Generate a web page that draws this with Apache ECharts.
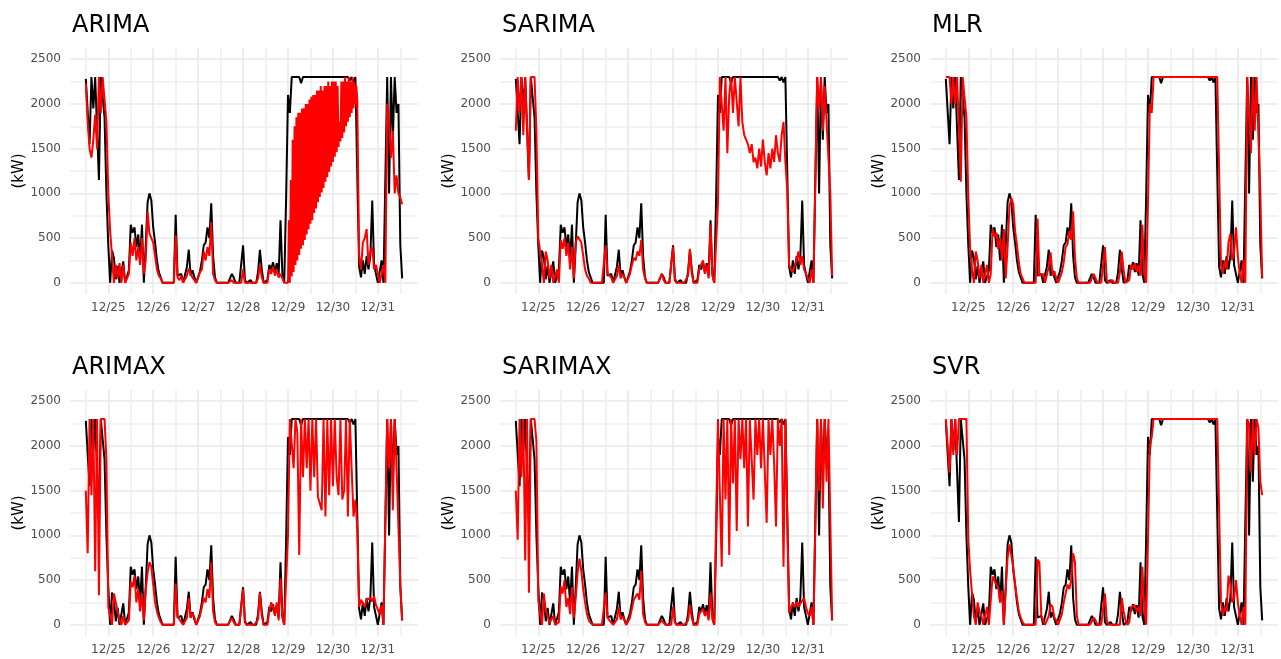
<!DOCTYPE html>
<html>
<head>
<meta charset="utf-8">
<title>Forecast comparison</title>
<script src="https://cdn.jsdelivr.net/npm/echarts@6/dist/echarts.min.js"></script>
<style>
html, body { margin: 0; padding: 0; background: #fff; }
#chart { width: 1281px; height: 659px; }
</style>
</head>
<body>
<div id="chart"></div>
<script>
// hourly load in kW, one value per hour starting 12/24 12:00
var actual = [
  2280, 2300, 1550, 2300, 1950, 2300, 2300, 1150, 2300, 2300, 1850, 1000,
  420, 0, 360, 280, 40, 190, 0, 0, 240, 0, 0, 140,
  650, 560, 620, 400, 540, 250, 650, 0, 420, 900, 1000, 920,
  620, 450, 250, 120, 60, 0, 0, 0, 0, 0, 0, 0,
  760, 80, 60, 100, 0, 0, 180, 370, 80, 140, 60, 0,
  0, 130, 250, 420, 450, 620, 500, 890, 300, 60, 0, 0,
  0, 0, 0, 0, 0, 0, 100, 60, 0, 0, 0, 0,
  420, 30, 0, 0, 30, 0, 0, 0, 120, 370, 150, 0,
  0, 30, 200, 150, 230, 120, 220, 80, 700, 100, 0, 950,
  2100, 1900, 2300, 2300, 2300, 2300, 2300, 2230, 2300, 2300, 2300, 2300,
  2300, 2300, 2300, 2300, 2300, 2300, 2300, 2300, 2300, 2300, 2300, 2300,
  2300, 2300, 2300, 2300, 2300, 2300, 2300, 2300, 2300, 2260, 2300, 2240,
  2300, 2300, 180, 60, 250, 100, 300, 150, 300, 920, 200, 100,
  0, 0, 250, 0, 0, 2300, 1000, 2300, 1600, 2300, 1900, 2000,
  420, 50
];

var arima = [
  2230, 1800, 1500, 1400, 1600, 1880, 1500, 2300, 1900, 2300, 2300, 1800,
  1000, 580, 300, 0, 200, 50, 220, 0, 200, 0, 0, 100,
  450, 300, 500, 250, 400, 200, 500, 100, 250, 800, 550, 500,
  450, 300, 150, 80, 50, 0, 0, 0, 0, 0, 0, 0,
  530, 60, 30, 80, 0, 0, 80, 160, 100, 60, 30, 0,
  0, 120, 150, 350, 250, 400, 300, 680, 100, 30, 0, 0,
  0, 0, 0, 0, 0, 0, 30, 0, 0, 0, 0, 0,
  150, 0, 0, 0, 0, 0, 0, 0, 50, 200, 60, 0,
  0, 0, 150, 100, 180, 80, 150, 60, 100, 50, 0, 0,
  0, 0, 70, 120, 200, 250, 310, 380, 420, 480, 540, 600,
  660, 700, 780, 830, 900, 960, 1010, 1060, 1130, 1180, 1240, 1300,
  1350, 1410, 1460, 1520, 1580, 1620, 1680, 1750, 1800, 1850, 1900, 1950,
  2000, 2050, 300, 150, 450, 500, 600, 200, 350, 400, 150, 200,
  100, 0, 0, 200, 0, 2000, 1800, 1400, 1700, 1000, 1200, 1000,
  950, 880
];
// ARIMA swings up between the hourly lows on 12/29-12/30 (values at half past, from 108:30)
var arimaHalfStart = 108.5;
var arimaHalf = [
  700, 1150, 1600, 1750, 1850, 1900, 1900, 1950, 1950, 2000,
  2000, 2050, 2080, 2100, 2100, 2150, 2150, 2200, 2150, 2200,
  2200, 2250, 2200, 2250, 2250, 2250, 2200, 1800, 2250, 2250,
  2300, 2250, 2300, 2250, 2300, 2250, 2200
];

var sarima = [
  1700, 2300, 1900, 2300, 1650, 2300, 2300, 1150, 2300, 2300, 2300, 1700,
  500, 350, 200, 0, 350, 250, 50, 200, 0, 0, 150, 0,
  480, 380, 500, 300, 450, 150, 400, 50, 450, 520, 540, 450,
  300, 150, 80, 50, 0, 0, 0, 0, 0, 0, 0, 0,
  420, 100, 80, 60, 0, 0, 80, 200, 50, 100, 60, 0,
  0, 100, 200, 280, 250, 350, 300, 480, 150, 50, 0, 0,
  0, 0, 0, 0, 0, 0, 100, 30, 0, 0, 0, 0,
  400, 50, 0, 0, 0, 0, 0, 0, 80, 380, 100, 0,
  0, 0, 150, 200, 250, 100, 200, 50, 650, 80, 0, 0,
  900, 2300, 2300, 1700, 2300, 1450, 2100, 2300, 1900, 2300, 2300, 1750,
  2300, 1800, 1650, 1600, 1550, 1450, 1550, 1350, 1400, 1280, 1500, 1300,
  1600, 1350, 1200, 1450, 1280, 1500, 1350, 1650, 1450, 1350, 1650, 1800,
  1350, 1050, 200, 150, 120, 200, 250, 350, 200, 300, 150, 100,
  50, 0, 150, 0, 0, 2300, 1950, 2300, 1700, 2200, 1800, 1400,
  1000, 80
];

var mlr = [
  2300, 2300, 2300, 2000, 2300, 2000, 2300, 2300, 1130, 2300, 2300, 1850,
  950, 380, 150, 0, 350, 250, 50, 200, 0, 0, 200, 0,
  100, 600, 520, 560, 380, 500, 250, 600, 50, 400, 850, 950,
  880, 580, 420, 230, 100, 50, 0, 0, 0, 0, 0, 0,
  0, 720, 80, 60, 100, 0, 0, 180, 340, 80, 130, 50,
  0, 0, 120, 230, 400, 430, 580, 480, 800, 280, 50, 0,
  0, 0, 0, 0, 0, 0, 0, 100, 50, 0, 0, 0,
  0, 400, 30, 0, 0, 30, 0, 0, 0, 120, 350, 140,
  0, 0, 30, 200, 150, 220, 120, 200, 80, 650, 100, 0,
  900, 2000, 1900, 2300, 2300, 2300, 2300, 2300, 2300, 2300, 2300, 2300,
  2300, 2300, 2300, 2300, 2300, 2300, 2300, 2300, 2300, 2300, 2300, 2300,
  2300, 2300, 2300, 2300, 2300, 2300, 2300, 2300, 2300, 2300, 2300, 2300,
  2300, 2300, 2300, 200, 100, 250, 150, 450, 550, 250, 350, 620,
  300, 100, 0, 250, 0, 2300, 2300, 1450, 2300, 1700, 2300, 2300,
  1000, 60
];

var arimax = [
  1500, 800, 2300, 1450, 2300, 600, 2300, 330, 2300, 2300, 2300, 1850,
  200, 100, 0, 350, 250, 150, 50, 0, 100, 0, 0, 50,
  480, 420, 550, 250, 400, 150, 350, 50, 400, 580, 700, 650,
  450, 250, 150, 80, 30, 0, 0, 0, 0, 0, 0, 0,
  460, 100, 60, 50, 0, 0, 80, 300, 80, 130, 80, 0,
  0, 100, 200, 300, 250, 400, 300, 700, 150, 30, 0, 0,
  0, 0, 0, 0, 0, 0, 75, 30, 0, 0, 0, 0,
  400, 50, 0, 0, 0, 0, 0, 0, 60, 360, 100, 0,
  0, 0, 150, 250, 200, 100, 250, 50, 520, 80, 0, 0,
  1000, 2300, 2300, 1750, 2300, 2150, 780, 2300, 1650, 2300, 1750, 2300,
  1500, 2300, 1650, 2300, 1430, 1450, 1280, 2300, 1210, 2300, 1450, 2300,
  1550, 2300, 1650, 1450, 2300, 1400, 1500, 2300, 1210, 2300, 1750, 1210,
  1400, 1100, 200, 280, 300, 200, 280, 260, 300, 260, 320, 220,
  200, 120, 220, 0, 0, 2300, 1750, 2300, 1280, 2300, 1750, 1100,
  450, 50
];

var sarimax = [
  1500, 950, 2300, 1650, 2300, 720, 2300, 360, 2300, 2300, 2300, 2050,
  280, 120, 0, 350, 150, 100, 20, 0, 100, 0, 0, 30,
  430, 350, 500, 200, 300, 120, 420, 80, 300, 580, 740, 600,
  400, 250, 120, 50, 20, 0, 0, 0, 0, 0, 0, 0,
  360, 80, 50, 40, 0, 0, 60, 200, 60, 100, 50, 0,
  0, 80, 180, 280, 260, 350, 280, 600, 120, 30, 0, 0,
  0, 0, 0, 0, 0, 0, 50, 20, 0, 0, 0, 0,
  200, 30, 0, 0, 0, 0, 0, 0, 50, 220, 80, 0,
  0, 0, 120, 150, 180, 100, 150, 50, 350, 60, 0, 0,
  2300, 2300, 650, 2300, 1400, 2300, 780, 2300, 1580, 2300, 1050, 2300,
  1850, 2300, 1750, 2300, 1100, 2300, 1850, 1400, 2300, 1900, 2300, 1750,
  2300, 2300, 1140, 2300, 1900, 2300, 1800, 1100, 2300, 2000, 2300, 650,
  2300, 2300, 130, 200, 240, 200, 260, 200, 240, 260, 300, 200,
  130, 100, 200, 0, 0, 2300, 1500, 2300, 1300, 2300, 1600, 2300,
  1150, 50
];

var svr = [
  2300, 2300, 1700, 2300, 1900, 2300, 1900, 2300, 2300, 2300, 2300, 2300,
  950, 600, 350, 100, 0, 250, 150, 100, 0, 0, 200, 0,
  0, 540, 520, 450, 420, 250, 380, 0, 400, 750, 900, 880,
  650, 450, 300, 150, 80, 30, 0, 0, 0, 0, 0, 0,
  0, 730, 700, 100, 80, 0, 0, 100, 230, 200, 80, 50,
  0, 0, 120, 250, 350, 450, 400, 500, 800, 700, 100, 0,
  0, 0, 0, 0, 0, 0, 0, 80, 50, 0, 0, 0,
  0, 350, 50, 0, 0, 0, 0, 0, 0, 0, 300, 150,
  50, 0, 30, 200, 180, 220, 150, 200, 100, 650, 200, 0,
  950, 2000, 2100, 2300, 2300, 2300, 2300, 2300, 2300, 2300, 2300, 2300,
  2300, 2300, 2300, 2300, 2300, 2300, 2300, 2300, 2300, 2300, 2300, 2300,
  2300, 2300, 2300, 2300, 2300, 2300, 2300, 2300, 2300, 2300, 2300, 2300,
  2300, 2300, 2300, 250, 100, 200, 150, 550, 450, 250, 300, 500,
  250, 100, 0, 200, 0, 2300, 2250, 1700, 2300, 1900, 2300, 2200,
  1600, 1450
];

var models = ["ARIMA", "SARIMA", "MLR", "ARIMAX", "SARIMAX", "SVR"];
var predicted = [arima, sarima, mlr, arimax, sarimax, svr];

// x ticks: hours since 12/24 12:00, midnight of 12/25 is hour 12
var dayLabels = ["12/25", "12/26", "12/27", "12/28", "12/29", "12/30", "12/31"];
var yLabels = [0, 500, 1000, 1500, 2000, 2500];

var FONT = "DejaVu Sans";
var hours = actual.map(function (v, i) { return i; });
var xLabelValues = dayLabels.map(function (d, i) { return 12 + 24 * i; });
var xTickValues = [];
for (var h = 0; h <= 168; h += 12) xTickValues.push(h);
var yTickValues = [];
for (var v = 0; v <= 2500; v += 250) yTickValues.push(v);

function predictedPoints(i) {
  var pts = hours.map(function (hr) { return [hr, predicted[i][hr]]; });
  if (i === 0) {
    arimaHalf.forEach(function (val, k) { pts.push([arimaHalfStart + k, val]); });
    pts.sort(function (a, b) { return a[0] - b[0]; });
  }
  return pts;
}

var chart = echarts.init(document.getElementById("chart"));

var titles = [], grids = [], xAxes = [], yAxes = [], series = [];
models.forEach(function (name, i) {
  var col = i % 3, row = Math.floor(i / 3);
  var left = 70 + col * 430, top = 48 + row * 342;
  titles.push({
    text: name, left: left + 2, top: top - 34, padding: 0,
    textStyle: { fontFamily: FONT, fontSize: 24, fontWeight: "normal", color: "#000" }
  });
  grids.push({ left: left, top: top, width: 348, height: 246 });
  xAxes.push({
    type: "value", gridIndex: i, min: -8.45, max: 177.45,
    axisLine: { show: false },
    axisTick: { show: false, customValues: xTickValues },
    axisLabel: {
      customValues: xLabelValues, margin: 8,
      color: "#4d4d4d", fontSize: 12, fontFamily: FONT,
      formatter: function (val) { return dayLabels[Math.round((val - 12) / 24)]; }
    },
    splitLine: { show: true, lineStyle: { color: ["#efefef", "#e9e9e9"], width: 1.6 } }
  });
  yAxes.push({
    type: "value", gridIndex: i, min: -125, max: 2625,
    name: "(kW)", nameLocation: "middle", nameRotate: 90, nameGap: 41,
    nameTextStyle: { fontFamily: FONT, fontSize: 15, color: "#000" },
    axisLine: { show: false },
    axisTick: { show: false, customValues: yTickValues },
    axisLabel: {
      customValues: yLabels, margin: 9, color: "#4d4d4d", fontSize: 12, fontFamily: FONT,
      formatter: function (val) { return String(val); }
    },
    splitLine: { show: true, lineStyle: { color: ["#e9e9e9", "#efefef"], width: 1.6 } }
  });
  series.push({
    name: "actual", type: "line", xAxisIndex: i, yAxisIndex: i,
    data: hours.map(function (hr) { return [hr, actual[hr]]; }),
    showSymbol: false, silent: true,
    lineStyle: { color: "#000", width: 2 }
  });
  series.push({
    name: name, type: "line", xAxisIndex: i, yAxisIndex: i,
    data: predictedPoints(i),
    showSymbol: false, silent: true,
    lineStyle: { color: "#ff0000", width: 2 }
  });
});

chart.setOption({
  animation: false,
  backgroundColor: "#fff",
  title: titles,
  grid: grids,
  xAxis: xAxes,
  yAxis: yAxes,
  series: series
});
</script>
</body>
</html>
